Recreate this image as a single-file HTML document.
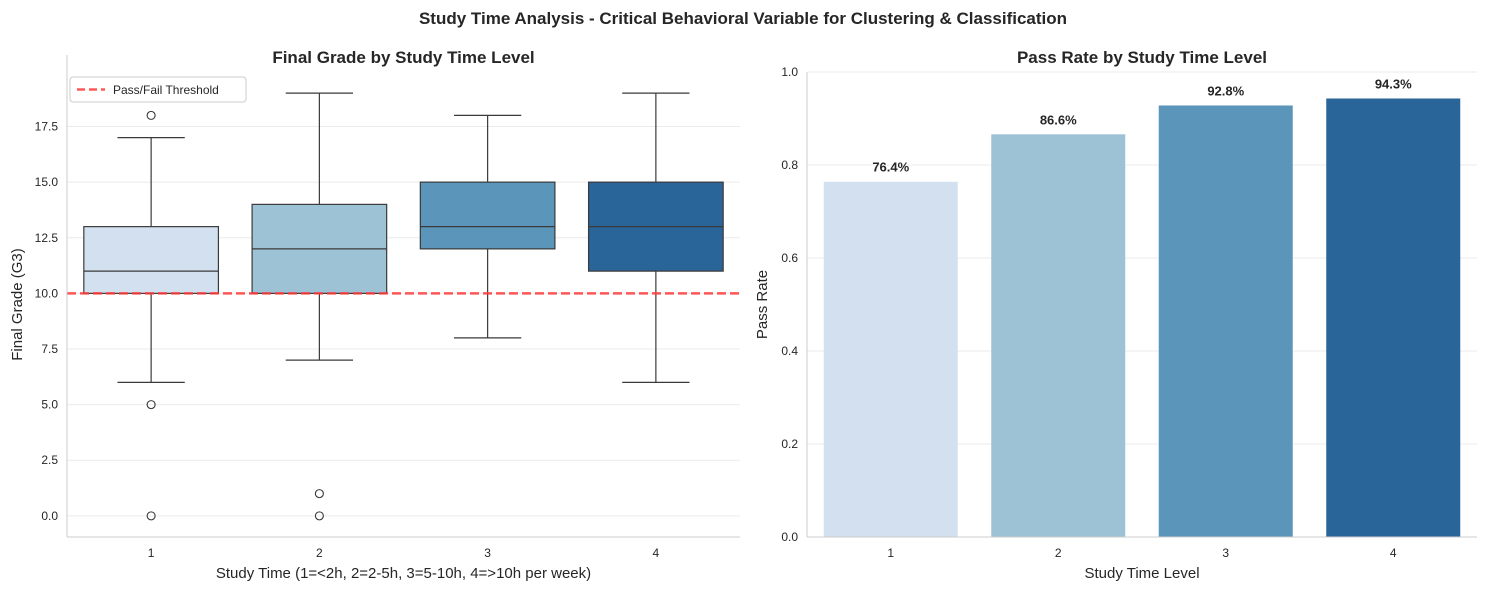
<!DOCTYPE html>
<html><head><meta charset="utf-8"><style>
body{margin:0;background:#fff;font-family:"Liberation Sans","DejaVu Sans",sans-serif;}
svg text{font-family:"Liberation Sans","DejaVu Sans",sans-serif;fill:#262626;}
</style></head><body>
<svg id="c" width="1487" height="591" xmlns="http://www.w3.org/2000/svg">
<text x="743" y="24" text-anchor="middle" font-size="17" font-weight="bold">Study Time Analysis - Critical Behavioral Variable for Clustering &amp; Classification</text>
<g id="left"></g>
<g id="right"></g>
</svg>
<script>
const categories=["1","2","3","4"];
const colors=["#d3e0ef","#9dc1d5","#5b96ba","#2a6599"];
const q1=[10,10,12,11];
const medians=[11,12,13,13];
const q3=[13,14,15,15];
const whiskLo=[6,7,8,6];
const whiskHi=[17,19,18,19];
const outliers=[[18,5,0],[1,0],[],[]];
const threshold=10;
const yTicksL=[0,2.5,5,7.5,10,12.5,15,17.5];
const passRates=[0.764,0.866,0.928,0.943];
const yTicksR=[0,0.2,0.4,0.6,0.8,1.0];

const NS="http://www.w3.org/2000/svg";
function mk(parent,tag,attrs,text){const e=document.createElementNS(NS,tag);for(const k in attrs)e.setAttribute(k,attrs[k]);if(text!==undefined)e.textContent=text;parent.appendChild(e);return e;}
const plotTop=72,bot=537;
// Left panel
const L=document.getElementById('left');
const lx0=67,lx1=740,lyMin=-0.95,lyMax=19.95;
const ly=v=>bot-(v-lyMin)/(lyMax-lyMin)*(bot-plotTop);
const step=(lx1-lx0)/4;
const lx=i=>lx0+step*(i+0.5);
yTicksL.forEach(t=>{
 const g=mk(L,'line',{x1:lx0,x2:lx1,y1:ly(t),y2:ly(t),stroke:'#ebebeb','stroke-width':1});
 
 
 const tx=mk(L,'text',{x:lx0-9,y:ly(t)+4,'text-anchor':'end','font-size':12},t.toFixed(1));
 
 
});
categories.forEach((c,i)=>{
 const x=lx(i),w=step*0.8;
 const g=mk(L,'g',{});
 
 
 mk(g,'line',{x1:x,x2:x,y1:ly(whiskLo[i]),y2:ly(q1[i]),stroke:'#3a3a3a','stroke-width':1.2});
 mk(g,'line',{x1:x,x2:x,y1:ly(q3[i]),y2:ly(whiskHi[i]),stroke:'#3a3a3a','stroke-width':1.2});
 mk(g,'line',{x1:x-w/4,x2:x+w/4,y1:ly(whiskLo[i]),y2:ly(whiskLo[i]),stroke:'#3a3a3a','stroke-width':1.2});
 mk(g,'line',{x1:x-w/4,x2:x+w/4,y1:ly(whiskHi[i]),y2:ly(whiskHi[i]),stroke:'#3a3a3a','stroke-width':1.2});
 mk(g,'rect',{x:x-w/2,y:ly(q3[i]),width:w,height:ly(q1[i])-ly(q3[i]),fill:colors[i],stroke:'#3a3a3a','stroke-width':1.2});
 mk(g,'line',{x1:x-w/2,x2:x+w/2,y1:ly(medians[i]),y2:ly(medians[i]),stroke:'#3a3a3a','stroke-width':1.2});
 outliers[i].forEach(o=>mk(g,'circle',{cx:x,cy:ly(o),r:4,fill:'none',stroke:'#3a3a3a','stroke-width':1.1}));
 const tx=mk(L,'text',{x:x,y:bot+20,'text-anchor':'middle','font-size':12},c);
 
 
});
const th=mk(L,'line',{x1:lx0,x2:lx1,y1:ly(threshold),y2:ly(threshold),stroke:'#ff3b3b','stroke-width':2.5,'stroke-dasharray':'9,4',opacity:0.85});


mk(L,'line',{x1:lx0,x2:lx0,y1:55,y2:bot,stroke:'#ccc'});
mk(L,'line',{x1:lx0,x2:lx1,y1:bot,y2:bot,stroke:'#ccc'});
const lg=mk(L,'g',{});


mk(lg,'rect',{x:70,y:77,width:176,height:25,rx:3,fill:'#fff',stroke:'#ccc'});
mk(lg,'line',{x1:77,x2:105,y1:89.5,y2:89.5,stroke:'#ff3b3b','stroke-width':2.5,'stroke-dasharray':'8,4',opacity:0.85});
mk(lg,'text',{x:113,y:94,'font-size':12},'Pass/Fail Threshold');
let t=mk(L,'text',{x:(lx0+lx1)/2,y:63,'text-anchor':'middle','font-size':17,'font-weight':'bold'},'Final Grade by Study Time Level');


t=mk(L,'text',{x:(lx0+lx1)/2,y:578,'text-anchor':'middle','font-size':15},'Study Time (1=<2h, 2=2-5h, 3=5-10h, 4=>10h per week)');


t=mk(L,'text',{x:22,y:(plotTop+bot)/2,'text-anchor':'middle','font-size':15,transform:`rotate(-90 22 ${(plotTop+bot)/2})`},'Final Grade (G3)');


// Right panel
const R=document.getElementById('right');
const rx0=807,rx1=1477;
const ry=v=>bot-v*(bot-plotTop);
const rstep=(rx1-rx0)/4;
const rx=i=>rx0+rstep*(i+0.5);
yTicksR.forEach(v=>{
 const g=mk(R,'line',{x1:rx0,x2:rx1,y1:ry(v),y2:ry(v),stroke:'#ebebeb'});
 
 
 const tx=mk(R,'text',{x:rx0-9,y:ry(v)+4,'text-anchor':'end','font-size':12},v.toFixed(1));
 
 
});
categories.forEach((c,i)=>{
 const w=rstep*0.8,x=rx(i);
 const b=mk(R,'rect',{x:x-w/2,y:ry(passRates[i]),width:w,height:bot-ry(passRates[i]),fill:colors[i]});
 
 
 const lb=mk(R,'text',{x:x,y:ry(passRates[i])-10,'text-anchor':'middle','font-size':13,'font-weight':'bold'},(passRates[i]*100).toFixed(1)+'%');
 
 
 const tx=mk(R,'text',{x:x,y:bot+20,'text-anchor':'middle','font-size':12},c);
 
 
});
mk(R,'line',{x1:rx0,x2:rx0,y1:plotTop,y2:bot,stroke:'#ccc'});
mk(R,'line',{x1:rx0,x2:rx1,y1:bot,y2:bot,stroke:'#ccc'});
t=mk(R,'text',{x:(rx0+rx1)/2,y:63,'text-anchor':'middle','font-size':17,'font-weight':'bold'},'Pass Rate by Study Time Level');


t=mk(R,'text',{x:(rx0+rx1)/2,y:578,'text-anchor':'middle','font-size':15},'Study Time Level');


t=mk(R,'text',{x:767,y:(plotTop+bot)/2,'text-anchor':'middle','font-size':15,transform:`rotate(-90 767 ${(plotTop+bot)/2})`},'Pass Rate');


</script>
</body></html>
